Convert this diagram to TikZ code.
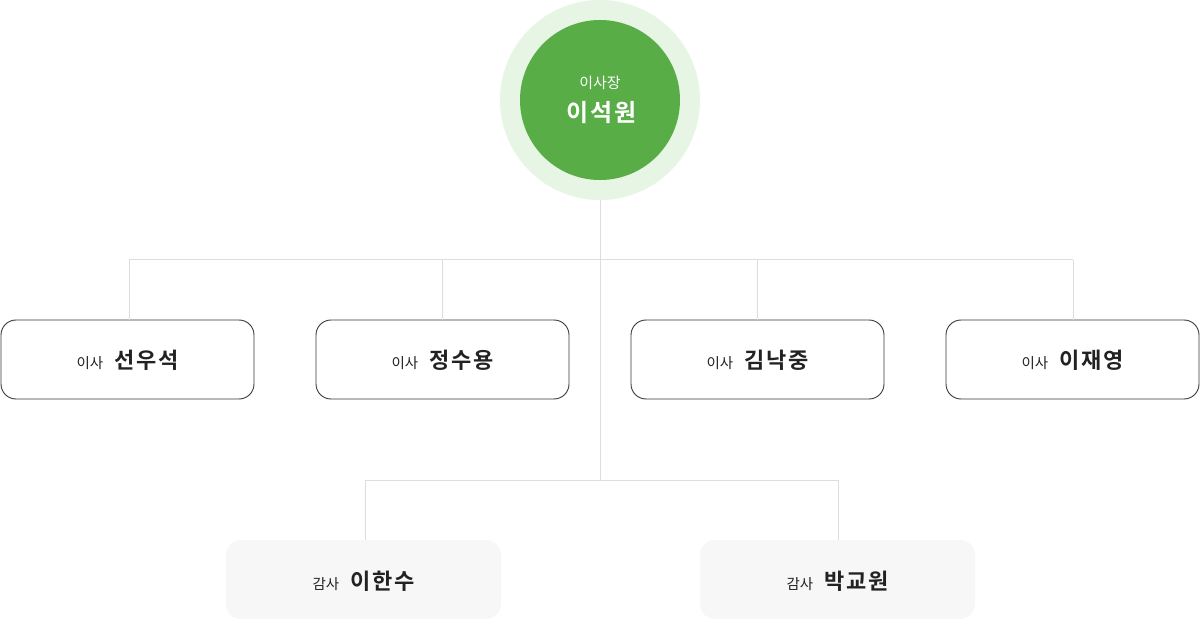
\documentclass[tikz,border=0pt]{standalone}
\usepackage{fontspec}
\newfontfamily\kr{Noto Sans CJK KR}
\newfontfamily\krb[LetterSpace=8]{Noto Sans CJK KR Bold}
\definecolor{ringc}{HTML}{E7F5E4}
\definecolor{mainc}{HTML}{58AD46}
\definecolor{linec}{HTML}{DDDDDD}
\definecolor{txt}{HTML}{222222}
\definecolor{boxfill}{HTML}{F7F7F7}
\begin{document}
\begin{tikzpicture}[x=1pt,y=-1pt,
  conn/.style={draw=linec,line width=1pt},
  dirbox/.style={draw=txt!90,line width=0.9pt,rounded corners=15pt,minimum width=253pt,minimum height=79pt,inner sep=0pt,fill=white},
  audbox/.style={fill=boxfill,rounded corners=15pt,minimum width=275pt,minimum height=79pt,inner sep=0pt}]
\useasboundingbox (0,0) rectangle (1200,620);
% connectors
\coordinate (top) at (600,200);
\coordinate (j1) at (600,260);
\coordinate (j2) at (600,480);
\coordinate (h1l) at (129,260);
\coordinate (h1r) at (1073,260);
\coordinate (h2l) at (365,480);
\coordinate (h2r) at (838,480);
% nodes
\node[circle,fill=ringc,minimum size=200pt,inner sep=0pt] (ring) at (600,100) {};
\node[circle,fill=mainc,minimum size=160pt,inner sep=0pt] (chair) at (600,100) {};
\node[text=white,font=\kr\fontsize{15}{17}\selectfont] (chairrole) at (600,82.5) {이사장};
\node[text=white,font=\krb\fontsize{24}{27}\selectfont] (chairname) at (602,113) {이석원};
\node[dirbox] (d1) at (127.5,359.5) {};
\node[dirbox] (d2) at (442.5,359.5) {};
\node[dirbox] (d3) at (757.5,359.5) {};
\node[dirbox] (d4) at (1072.5,359.5) {};
\node[audbox] (a1) at (363.5,579.5) {};
\node[audbox] (a2) at (837.5,579.5) {};
\foreach \b/\r/\n in {d1/이사/선우석,d2/이사/정수용,d3/이사/김낙중,d4/이사/이재영,a1/감사/이한수,a2/감사/박교원}{
  \node[text=txt,anchor=base,inner sep=0pt] (\b t) at ([yshift=-9.5pt]\b.center) {\kr\fontsize{14.5}{16}\selectfont \r\hspace{11pt}\krb\fontsize{22}{24}\selectfont \n};
}
\draw[conn] (chair.south |- top) -- (j2);
\draw[conn] (h1l) -- (h1r);
\draw[conn] (h2l) -- (h2r);
\draw[conn] (h1l) -- (h1l |- d1.north);
\draw[conn] (d2.north |- j1) -- (d2.north);
\draw[conn] (d3.north |- j1) -- (d3.north);
\draw[conn] (h1r) -- (h1r |- d4.north);
\draw[conn] (h2l) -- (h2l |- a1.north);
\draw[conn] (h2r) -- (h2r |- a2.north);
\end{tikzpicture}
\end{document}
